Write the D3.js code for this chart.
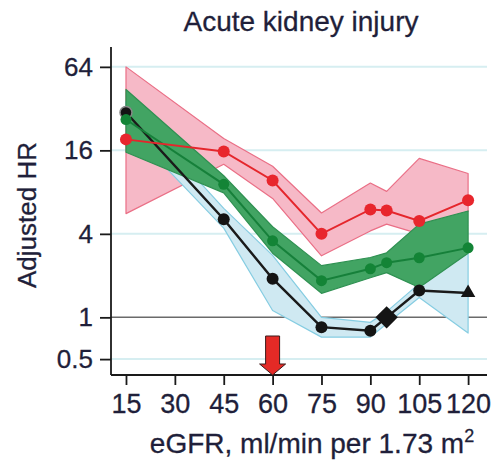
<!DOCTYPE html>
<html>
<head>
<meta charset="utf-8">
<script src="https://cdn.jsdelivr.net/npm/d3@7"></script>
<style>
  body { margin: 0; background: #fff; }
  text { font-family: "Liberation Sans", Arial, sans-serif; fill: #1f1f3a; stroke: #1f1f3a; stroke-width: 0.3px; }
</style>
</head>
<body>
<div id="chart"></div>
<script>
// eGFR categories
var egfr = [15, 45, 60, 75, 90, 95, 105, 120];

// red series (with pink CI)
var redHR = [19.2, 15.7, 9.7, 4.0, 6.0, 5.9, 4.96, 7.0];
var redLo = [5.6, 12.7, 7.2, 2.78, 4.2, 4.7, 4.0, 5.8];
var redHi = [64, 19.5, 12.3, 5.66, 9.3, 8.1, 14, 10.9];

// green series
var greenHR = [26.7, 9.1, 3.56, 1.84, 2.24, 2.48, 2.69, 3.17];
var greenLo = [15.5, 7.9, 2.9, 1.49, 1.93, 2.1, 1.64, 2.9];
var greenHi = [44, 10.5, 4.5, 2.36, 2.7, 2.92, 4.7, 5.85];

// black series (with blue CI)
var blackHR = [30, 5.1, 1.9, 0.85, 0.8, 1.0, 1.56, 1.5];
var blueLo = [24, 4.4, 1.12, 0.72, 0.72, 0.9, 1.39, 0.77];
var blueHi = [36, 6.1, 2.8, 1.0, 0.92, 1.1, 1.75, 2.9];

var xTicks = [15, 30, 45, 60, 75, 90, 105, 120];
var yTicks = [0.5, 1, 4, 16, 64];
var refIndex = 5;      // reference category (diamond)
var arrowAt = 60;

var width = 499, height = 465;

var svg = d3.select("#chart")
  .append("svg")
    .attr("width", width)
    .attr("height", height);

var x = d3.scaleLinear()
  .domain([10.4, 125.8])
  .range([111, 487]);

var y = d3.scaleLog()
  .base(2)
  .domain([0.384, 89])
  .range([375, 47]);

// grid lines
svg.append("g")
  .selectAll("line")
  .data(yTicks)
  .enter()
  .append("line")
    .attr("x1", 111)
    .attr("x2", 487)
    .attr("y1", function(d) { return y(d); })
    .attr("y2", function(d) { return y(d); })
    .style("stroke", function(d) { return d === 1 ? "#6a6a6a" : "#d6eef1"; })
    .style("stroke-width", function(d) { return d === 1 ? 1.5 : 2; });

// CI bands
function band(lo, hi, fill, stroke) {
  var pts = egfr.map(function(e, i) { return {e: e, lo: lo[i], hi: hi[i]}; });
  var area = d3.area()
    .x(function(d) { return x(d.e); })
    .y0(function(d) { return y(d.lo); })
    .y1(function(d) { return y(d.hi); });
  svg.append("path")
    .datum(pts)
    .attr("d", area)
    .style("fill", fill)
    .style("stroke", stroke)
    .style("stroke-width", 1.2)
    .style("stroke-linejoin", "round");
}
band(redLo, redHi, "#f6b9c7", "#ea6f86");
band(blueLo, blueHi, "#cfe9f2", "#86cde2");
band(greenLo, greenHi, "#42a463", "#2f9152");

// lines
function series(vals, color, lw) {
  var line = d3.line()
    .x(function(d, i) { return x(egfr[i]); })
    .y(function(d) { return y(d); });
  svg.append("path")
    .datum(vals)
    .attr("d", line)
    .style("fill", "none")
    .style("stroke", color)
    .style("stroke-width", lw);
}
series(blackHR, "#1a1a1a", 2.5);
series(greenHR, "#16803a", 2);
series(redHR, "#e5262c", 2);

// markers
var blackPts = blackHR.map(function(v, i) { return {e: egfr[i], v: v, i: i}; });
svg.append("g")
  .selectAll("circle")
  .data(blackPts.filter(function(d) { return d.i !== refIndex && d.i !== egfr.length - 1; }))
  .enter()
  .append("circle")
    .attr("cx", function(d) { return x(d.e); })
    .attr("cy", function(d) { return y(d.v); })
    .attr("r", 6)
    .style("fill", "#141414")
    .style("stroke", function(d) { return d.i === 0 ? "#888" : "none"; })
    .style("stroke-width", 1.5);

svg.append("path")
  .attr("d", d3.symbol(d3.symbolSquare, 250)())
  .attr("transform", "translate(" + x(egfr[refIndex]) + "," + y(blackHR[refIndex]) + ") rotate(45)")
  .style("fill", "#141414");

svg.append("path")
  .attr("d", d3.symbol(d3.symbolTriangle, 90)())
  .attr("transform", "translate(" + x(egfr[egfr.length - 1]) + "," + y(blackHR[egfr.length - 1]) + ")")
  .style("fill", "#141414");

svg.append("g")
  .selectAll("circle")
  .data(greenHR)
  .enter()
  .append("circle")
    .attr("cx", function(d, i) { return x(egfr[i]); })
    .attr("cy", function(d) { return y(d); })
    .attr("r", 5.5)
    .style("fill", "#138436");

svg.append("g")
  .selectAll("circle")
  .data(redHR)
  .enter()
  .append("circle")
    .attr("cx", function(d, i) { return x(egfr[i]); })
    .attr("cy", function(d) { return y(d); })
    .attr("r", 6)
    .style("fill", "#e8262d");

// Y axis
var yAxis = svg.append("g")
  .attr("transform", "translate(111,0)")
  .call(d3.axisLeft(y).tickValues(yTicks).tickSize(11).tickPadding(7)
    .tickFormat(function(d) { return d; }));
yAxis.select(".domain").attr("d", "M0,47V375").style("stroke", "#1a1a1a").style("stroke-width", 1.8);
yAxis.selectAll(".tick line").style("stroke", "#1a1a1a").style("stroke-width", 1.8);
yAxis.selectAll(".tick text").style("font-size", "26px").style("fill", "#1f1f3a");

// X axis
var xAxis = svg.append("g")
  .attr("transform", "translate(0,375)")
  .call(d3.axisBottom(x).tickValues(xTicks).tickSize(10).tickPadding(9));
xAxis.select(".domain").attr("d", "M111,0H487").style("stroke", "#1a1a1a").style("stroke-width", 1.8);
xAxis.selectAll(".tick line").style("stroke", "#1a1a1a").style("stroke-width", 1.8);
xAxis.selectAll(".tick text").style("font-size", "27px").style("fill", "#1f1f3a");

// arrow at eGFR 60
var ax = x(arrowAt);
svg.append("path")
  .attr("d", "M" + (ax - 7) + ",336H" + (ax + 7) + "V364H" + (ax + 13) + "L" + ax + ",375L" + (ax - 13) + ",364H" + (ax - 7) + "Z")
  .style("fill", "#e42a26")
  .style("stroke", "#3a1a1a")
  .style("stroke-width", 1);

// title and labels
svg.append("text")
  .attr("x", 301)
  .attr("y", 31)
  .attr("text-anchor", "middle")
  .style("font-size", "28px")
  .text("Acute kidney injury");

svg.append("text")
  .attr("text-anchor", "middle")
  .attr("transform", "translate(36,215) rotate(-90)")
  .style("font-size", "26px")
  .text("Adjusted HR");

var xl = svg.append("text")
  .attr("x", 312)
  .attr("y", 453)
  .attr("text-anchor", "middle")
  .style("font-size", "28px");
xl.append("tspan").text("eGFR, ml/min per 1.73 m");
xl.append("tspan").attr("dy", -11).style("font-size", "18px").text("2");
</script>
</body>
</html>
